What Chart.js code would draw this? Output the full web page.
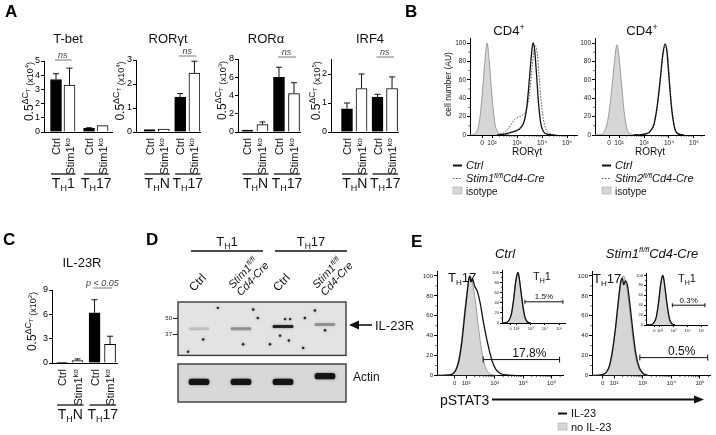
<!DOCTYPE html>
<html>
<head>
<meta charset="utf-8">
<script src="https://cdn.jsdelivr.net/npm/chart.js@4.4.1/dist/chart.umd.min.js"></script>
<style>
  body { margin: 0; width: 716px; height: 435px; position: relative; overflow: hidden; background: #fff; }
  canvas { position: absolute; }
</style>
</head>
<body>
<script>
// ---------- qPCR bars (panels A and C) ----------
const barLabels = ['Ctrl', 'Stim1ko', 'Ctrl', 'Stim1ko'];
const tbetGroups = ['1', '17'];
const thGroups = ['N', '17'];

const tbetMean = [3.7, 3.3, 0.25, 0.45];
const tbetTop = [4.1, 4.5, 0.3, 0.45];
const rorgtMean = [0.1, 0.12, 1.45, 2.45];
const rorgtTop = [0.1, 0.12, 1.6, 2.95];
const roraMean = [0.2, 0.8, 6.0, 4.2];
const roraTop = [0.2, 1.1, 7.1, 5.4];
const irf4Mean = [0.8, 1.5, 1.2, 1.5];
const irf4Top = [1.0, 2.0, 1.3, 1.9];
const il23rMean = [0.05, 0.3, 6.2, 2.3];
const il23rTop = [0.05, 0.5, 7.8, 3.3];

// ---------- flow histograms (x in decades, y in % of max) ----------
const decadePos = [1.6, 2, 3, 4, 5];
const decadeLabels = ['0', '10²', '10³', '10⁴', '10⁵'];

// B, Stim1 plot
const b1IsoX = [1.12, 1.3, 1.42, 1.52, 1.62, 1.72, 1.8, 1.88, 1.96, 2.04, 2.12, 2.22, 2.35, 2.5, 2.7];
const b1IsoY = [0, 1, 6, 20, 48, 82, 100, 84, 56, 30, 12, 4, 1, 0.5, 0];
const b1CtrlX = [2.2, 2.5, 2.8, 3.0, 3.15, 3.3, 3.4, 3.5, 3.58, 3.64, 3.7, 3.78, 3.86, 3.95, 4.05, 4.2, 4.5];
const b1CtrlY = [0, 1, 3, 5, 8, 16, 32, 62, 88, 100, 94, 66, 35, 13, 4, 1, 0];
const b1KoX = [2.2, 2.45, 2.65, 2.8, 2.95, 3.1, 3.25, 3.38, 3.5, 3.6, 3.68, 3.74, 3.82, 3.9, 4.0, 4.12, 4.3, 4.6];
const b1KoY = [0, 2, 7, 13, 18, 20, 22, 28, 45, 72, 92, 97, 86, 58, 28, 9, 2, 0];
// B, Stim2 plot
const b2IsoX = [1.04, 1.3, 1.42, 1.55, 1.68, 1.8, 1.92, 2.02, 2.12, 2.22, 2.34, 2.5, 2.8];
const b2IsoY = [0, 0.5, 4, 16, 42, 75, 98, 80, 50, 22, 5, 1, 0];
const b2CtrlX = [2.6, 2.9, 3.1, 3.25, 3.4, 3.52, 3.64, 3.74, 3.84, 3.92, 4.0, 4.1, 4.22, 4.35, 4.6];
const b2CtrlY = [0, 0.5, 1.5, 4, 12, 30, 58, 85, 99, 90, 62, 30, 8, 1.5, 0];
const b2KoX = [2.6, 2.9, 3.1, 3.25, 3.4, 3.52, 3.64, 3.74, 3.86, 3.94, 4.02, 4.12, 4.24, 4.38, 4.6];
const b2KoY = [0, 0.5, 1.5, 4, 11, 28, 55, 83, 97, 88, 60, 28, 7, 1, 0];

// E, pSTAT3 Ctrl (TH17 main, TH1 inset)
const e1NoX = [0.98, 1.4, 1.55, 1.65, 1.75, 1.85, 1.95, 2.05, 2.14, 2.22, 2.32, 2.42, 2.52, 2.62, 2.75, 2.9, 3.1];
const e1NoY = [0, 0.5, 2, 7, 18, 38, 65, 88, 100, 94, 76, 52, 30, 14, 4, 1, 0];
const e1IlX = [0.98, 1.4, 1.55, 1.65, 1.75, 1.85, 1.95, 2.05, 2.09, 2.13, 2.17, 2.22, 2.3, 2.4, 2.5, 2.6, 2.7, 2.8, 2.92, 3.05, 3.2, 3.4, 3.7];
const e1IlY = [0, 0.5, 2, 6, 15, 33, 60, 86, 96, 100, 94, 97, 90, 84, 72, 55, 40, 27, 14, 6, 2, 0.5, 0];
const e1InNoX = [1.0, 1.3, 1.5, 1.65, 1.8, 1.95, 2.1, 2.25, 2.4, 2.55, 2.7, 2.9];
const e1InNoY = [0, 1, 6, 18, 45, 82, 100, 80, 42, 14, 3, 0];
const e1InIlX = [1.0, 1.3, 1.5, 1.65, 1.8, 1.95, 2.05, 2.12, 2.2, 2.3, 2.45, 2.6, 2.75, 3.0];
const e1InIlY = [0, 1, 6, 17, 44, 80, 96, 100, 90, 68, 36, 12, 3, 0];
// E, pSTAT3 Stim1 fl/fl Cd4-Cre
const e2NoX = [1.23, 1.6, 1.75, 1.85, 1.95, 2.05, 2.15, 2.25, 2.33, 2.42, 2.52, 2.62, 2.72, 2.85, 3.0, 3.2];
const e2NoY = [0, 1, 4, 10, 24, 45, 72, 94, 100, 92, 72, 46, 24, 8, 2, 0];
const e2IlX = [1.23, 1.6, 1.75, 1.85, 1.95, 2.05, 2.15, 2.22, 2.28, 2.34, 2.4, 2.47, 2.56, 2.66, 2.76, 2.88, 3.02, 3.2];
const e2IlY = [0, 1, 4, 11, 26, 48, 75, 92, 98, 91, 95, 90, 70, 44, 22, 8, 2, 0];
const e2InNoX = [1.0, 1.4, 1.6, 1.75, 1.9, 2.05, 2.2, 2.35, 2.5, 2.65, 2.8, 3.0];
const e2InNoY = [0, 1, 6, 18, 45, 82, 100, 80, 42, 14, 3, 0];
const e2InIlX = [1.0, 1.4, 1.6, 1.75, 1.9, 2.05, 2.15, 2.22, 2.3, 2.4, 2.55, 2.7, 2.85, 3.1];
const e2InIlY = [0, 1, 6, 17, 44, 80, 96, 100, 90, 68, 36, 12, 3, 0];

// gates: E1 main, E1 inset, E2 main, E2 inset
const gateLabels = ['17.8%', '1.5%', '0.5%', '0.3%'];
const gateFrom = [2.6, 2.6, 2.9, 2.9];
const gateTo = [5.28, 5.25, 5.27, 5.25];
const gateLevel = [16, 42, 18, 40];

// ---------- western blot (panel D) ----------
const laneNames = ['Ctrl', 'Stim1', 'Ctrl', 'Stim1'];
const laneGroups = ['1', '17'];
const il23rBand = [0.5, 0.5, 0.54, 0.58];
const il23rInk = [0.12, 0.3, 0.85, 0.3];
const actinBand = [0.53, 0.53, 0.53, 0.68];
const actinInk = [0.95, 0.95, 0.95, 0.95];
const markerLabels = ['50', '37'];
const markerPos = [0.7, 0.4];
const speckX = [0.45, 1.29, 1.4, 0.1, 1.05, 2.05, 2.17, 2.52, 1.93, 2.14, 2.48, 3.0, 1.69, -0.26, 2.76];
const speckY = [0.89, 0.86, 0.7, 0.3, 0.21, 0.68, 0.68, 0.7, 0.37, 0.28, 0.14, 0.47, 0.21, 0.07, 0.84];

// ---------- helpers ----------
const FONT = '"Liberation Sans", Arial, Helvetica, sans-serif';
const INK = '#111';

function font(size, style) {
    return (style ? style + ' ' : '') + size + 'px ' + FONT;
}

// parts: [text, size, dy, style]
function rich(ctx, parts, x, y, align) {
    let w = 0;
    parts.forEach(p => { ctx.font = font(p[1], p[3]); w += ctx.measureText(p[0]).width; });
    let cx = align === 'center' ? x - w / 2 : align === 'right' ? x - w : x;
    ctx.textAlign = 'left';
    ctx.textBaseline = 'alphabetic';
    parts.forEach(p => {
        ctx.font = font(p[1], p[3]);
        ctx.fillText(p[0], cx, y + (p[2] || 0));
        cx += ctx.measureText(p[0]).width;
    });
}

function richRot(ctx, parts, x, y, angle, align) {
    ctx.save();
    ctx.translate(x, y);
    ctx.rotate(angle);
    rich(ctx, parts, 0, 0, align);
    ctx.restore();
}

function seg(ctx, x1, y1, x2, y2, w, color) {
    ctx.save();
    ctx.lineWidth = w || 1;
    ctx.strokeStyle = color || INK;
    ctx.beginPath();
    ctx.moveTo(x1, y1);
    ctx.lineTo(x2, y2);
    ctx.stroke();
    ctx.restore();
}

function letter(ctx, s, x, y) {
    ctx.font = font(17, 'bold');
    ctx.fillStyle = '#000';
    ctx.textAlign = 'left';
    ctx.fillText(s, x, y);
    ctx.fillStyle = INK;
}

function mount(box) {
    const c = document.createElement('canvas');
    c.width = box.r - box.l;
    c.height = box.b - box.t;
    c.style.left = box.l + 'px';
    c.style.top = box.t + 'px';
    c.style.width = c.width + 'px';
    c.style.height = c.height + 'px';
    document.body.appendChild(c);
    return c;
}

// padding that puts the plot area exactly on `area`, given fixed axis box sizes
function pad(box, area, yW, xH) {
    return { left: area.l - box.l - yW, top: area.t - box.t, right: box.r - area.r, bottom: box.b - area.b - xH };
}

// draws in page coordinates; X/Y map data values to page pixels
function overlay(box, draw) {
    return {
        id: 'overlay',
        afterDraw(chart) {
            const ctx = chart.ctx;
            const X = v => chart.scales.x.getPixelForValue(v) + box.l;
            const Y = v => chart.scales.y.getPixelForValue(v) + box.t;
            ctx.save();
            ctx.translate(-box.l, -box.t);
            ctx.fillStyle = INK;
            ctx.strokeStyle = INK;
            draw(ctx, X, Y);
            ctx.restore();
        }
    };
}

const baseOptions = {
    responsive: false,
    animation: false,
    devicePixelRatio: 1,
    events: []
};
const noPlugins = { legend: { display: false }, tooltip: { enabled: false } };

// ---------- bar panels ----------
function barPanel(p) {
    const pos = i => i + (i > 1 ? p.gap : 0);
    new Chart(mount(p.box), {
        type: 'bar',
        data: {
            datasets: [{
                data: p.mean.map((v, i) => ({ x: pos(i), y: v })),
                backgroundColor: p.mean.map((v, i) => i % 2 ? '#fff' : '#000'),
                borderColor: '#000',
                borderWidth: 1,
                barThickness: 11
            }]
        },
        options: {
            ...baseOptions,
            layout: { autoPadding: false, padding: pad(p.box, p.area, 12, 0) },
            plugins: noPlugins,
            scales: {
                x: {
                    type: 'linear', offset: false, min: p.xMin, max: p.xMax,
                    ticks: { display: false },
                    grid: { display: false },
                    border: { color: '#000', width: 1 },
                    afterFit: s => { s.height = 0; }
                },
                y: {
                    min: 0, max: p.max,
                    ticks: { stepSize: p.step, includeBounds: false, color: '#000', padding: 1, font: { family: FONT, size: 9 } },
                    grid: { drawOnChartArea: false, tickLength: 3, color: '#000' },
                    border: { color: '#000', width: 1 },
                    afterFit: s => { s.width = 12; }
                }
            }
        },
        plugins: [overlay(p.box, (ctx, X, Y) => {
            if (p.letter) letter(ctx, p.letter[0], p.letter[1], p.letter[2]);
            // error bars (upper only)
            p.mean.forEach((v, i) => {
                if (p.top[i] <= v) return;
                const x = X(pos(i));
                seg(ctx, x, Y(v), x, Y(p.top[i]), 1);
                seg(ctx, x - 3, Y(p.top[i]), x + 3, Y(p.top[i]), 1);
            });
            // significance bracket
            const s = p.sig;
            seg(ctx, X(pos(s.a)) - 1, s.y, X(pos(s.b)) + 2, s.y, 1, '#777');
            ctx.fillStyle = '#444';
            rich(ctx, [[s.text, 9, 0, 'italic']], (X(pos(s.a)) + X(pos(s.b))) / 2, s.y - 2.5, 'center');
            ctx.fillStyle = INK;
            // rotated category labels
            barLabels.forEach((name, i) => {
                const parts = name.endsWith('ko') ? [[name.slice(0, -2), 11], ['ko', 8, -4]] : [[name, 11]];
                richRot(ctx, parts, X(pos(i)) + 4, p.area.b + 6, -Math.PI / 2, 'right');
            });
            // subset groups
            p.groups.forEach((g, k) => {
                const x1 = X(pos(2 * k)) - 5;
                const x2 = X(pos(2 * k + 1)) + 6;
                seg(ctx, x1, p.area.b + 42, x2, p.area.b + 42, 1.3);
                rich(ctx, [['T', 14], ['H', 9, 3], [g, 14]], (x1 + x2) / 2, p.area.b + 56, 'center');
            });
            // title
            rich(ctx, [[p.title, 13]], p.titleX, p.titleY, 'center');
            // y-axis title
            richRot(ctx, [['0.5', 12], ['ΔC', 9, -5], ['T', 6, -3], [' (x10', 9], [p.exp, 6, -4], [')', 9]],
                p.yTitleX, (p.area.t + p.area.b) / 2 - 5, -Math.PI / 2, 'center');
        })]
    });
}

barPanel({
    box: { l: 0, t: 0, r: 116, b: 195 }, area: { l: 44, t: 61, r: 112, b: 132 },
    mean: tbetMean, top: tbetTop, max: 5, step: 1, xMin: -0.89, xMax: 4.15, gap: 0.45,
    title: 'T-bet', titleX: 68, titleY: 43, yTitleX: 32.5, exp: '4', groups: tbetGroups,
    sig: { a: 0, b: 1, text: 'ns', y: 60 }, letter: ['A', 5, 17]
});
barPanel({
    box: { l: 112, t: 20, r: 206, b: 195 }, area: { l: 136, t: 60, r: 200, b: 132 },
    mean: rorgtMean, top: rorgtTop, max: 3, step: 1, xMin: -0.95, xMax: 3.54, gap: 0.15,
    title: 'RORγt', titleX: 168, titleY: 43, yTitleX: 123.5, exp: '4', groups: thGroups,
    sig: { a: 2, b: 3, text: 'ns', y: 56 }
});
barPanel({
    box: { l: 206, t: 20, r: 304, b: 195 }, area: { l: 238, t: 59, r: 300, b: 132 },
    mean: roraMean, top: roraTop, max: 8, step: 2, xMin: -0.63, xMax: 3.5, gap: 0.1,
    title: 'RORα', titleX: 266, titleY: 43, yTitleX: 225.5, exp: '3', groups: thGroups,
    sig: { a: 2, b: 3, text: 'ns', y: 57 }
});
barPanel({
    box: { l: 304, t: 20, r: 402, b: 195 }, area: { l: 331, t: 59.5, r: 398, b: 132 },
    mean: irf4Mean, top: irf4Top, max: 2.5, step: 1, xMin: -1.1, xMax: 3.51, gap: 0.1,
    title: 'IRF4', titleX: 370, titleY: 43, yTitleX: 319.5, exp: '5', groups: thGroups,
    sig: { a: 2, b: 3, text: 'ns', y: 57 }
});
barPanel({
    box: { l: 0, t: 228, r: 125, b: 425 }, area: { l: 52, t: 290, r: 117, b: 363 },
    mean: il23rMean, top: il23rTop, max: 9, step: 3, xMin: -0.65, xMax: 3.55, gap: 0.1,
    title: 'IL-23R', titleX: 82, titleY: 267, yTitleX: 35.5, exp: '2', groups: thGroups,
    sig: { a: 2, b: 3, text: 'p < 0.05', y: 288 }, letter: ['C', 3, 245]
});

// ---------- histogram panels ----------
const curveStyles = {
    line: { borderColor: '#111', borderWidth: 1.3, fill: false, order: 0 },
    dots: { borderColor: '#555', borderWidth: 1, borderDash: [1.5, 1.5], fill: false, order: 1 },
    shade: { borderColor: '#888', borderWidth: 0.8, backgroundColor: '#d6d6d6', fill: 'origin', order: 2 }
};

function histPanel(p) {
    const datasets = p.curves.map(c => Object.assign({
        data: c.x.map((v, i) => ({ x: v, y: c.y[i] })),
        pointRadius: 0,
        cubicInterpolationMode: 'monotone'
    }, curveStyles[c.kind]));
    const tickFont = { family: FONT, size: p.tick };
    const yW = p.tick * 2.2 + p.tl + 2;
    const xH = p.tick * 1.6 + p.tl + 2;
    new Chart(mount(p.box), {
        type: 'line',
        data: { datasets },
        options: {
            ...baseOptions,
            layout: { autoPadding: false, padding: pad(p.box, p.area, yW, xH) },
            plugins: noPlugins,
            scales: {
                x: {
                    type: 'linear', min: p.xMin, max: p.xMax,
                    afterBuildTicks: s => { s.ticks = decadePos.map(v => ({ value: v })); },
                    ticks: { callback: (v, i) => decadeLabels[i], autoSkip: false, maxRotation: 0, color: '#222', padding: 1, font: tickFont },
                    grid: { drawOnChartArea: false, tickLength: p.tl, color: '#000' },
                    border: { color: '#000', width: 1 },
                    afterFit: s => { s.height = xH; }
                },
                y: {
                    min: 0, max: 105,
                    ticks: { stepSize: 20, includeBounds: false, color: '#222', padding: 1, font: tickFont },
                    grid: { drawOnChartArea: false, tickLength: p.tl, color: '#000' },
                    border: { color: '#000', width: 1 },
                    afterFit: s => { s.width = yW; }
                }
            }
        },
        plugins: [overlay(p.box, (ctx, X, Y) => {
            const b = p.area.b;
            const m = p.tl * 0.55;
            for (let d = 2; d <= 5; d++) {
                for (let k = 2; k < 10; k++) {
                    const u = d + Math.log10(k);
                    if (u < p.xMax) seg(ctx, X(u), b, X(u), b + m, 0.7);
                }
            }
            [10, 30, 50, 70, 90].forEach(v => seg(ctx, p.area.l - m, Y(v), p.area.l, Y(v), 0.7));
            (p.gates || []).forEach(g => {
                const x1 = X(gateFrom[g]);
                const x2 = X(gateTo[g]);
                const y = Y(gateLevel[g]);
                const cap = p.tl;
                seg(ctx, x1, y, x2, y, 1);
                seg(ctx, x1, y - cap, x1, y + cap, 1);
                seg(ctx, x2, y - cap, x2, y + cap, 1);
                rich(ctx, [[gateLabels[g], p.gateFont]], (x1 + x2) / 2 + p.gateShift, y - 2.5, 'center');
            });
            if (p.extra) p.extra(ctx, X, Y);
        })]
    });
}

function legendRow(ctx, kind, x, y, parts) {
    if (kind === 'line') seg(ctx, x, y - 3.5, x + 9, y - 3.5, 2);
    if (kind === 'dots') {
        ctx.save();
        ctx.setLineDash([1.5, 1.5]);
        seg(ctx, x, y - 3.5, x + 9, y - 3.5, 1, '#555');
        ctx.restore();
    }
    if (kind === 'shade') {
        ctx.fillStyle = '#d6d6d6';
        ctx.fillRect(x, y - 8, 9, 7);
        ctx.strokeStyle = '#aaa';
        ctx.lineWidth = 0.6;
        ctx.strokeRect(x, y - 8, 9, 7);
        ctx.fillStyle = INK;
    }
    rich(ctx, parts, x + 13, y, 'left');
}

histPanel({
    box: { l: 400, t: 0, r: 585, b: 200 }, area: { l: 470, t: 38.4, r: 577, b: 135 },
    xMin: 1.12, xMax: 5.4, tick: 6.5, tl: 3,
    curves: [
        { x: b1CtrlX, y: b1CtrlY, kind: 'line' },
        { x: b1KoX, y: b1KoY, kind: 'dots' },
        { x: b1IsoX, y: b1IsoY, kind: 'shade' }
    ],
    extra: ctx => {
        letter(ctx, 'B', 405, 17);
        rich(ctx, [['CD4', 13], ['+', 9, -5]], 509, 35, 'center');
        rich(ctx, [['RORγt', 10]], 527, 155, 'center');
        richRot(ctx, [['cell number (AU)', 8.5]], 451, 84, -Math.PI / 2, 'center');
        legendRow(ctx, 'line', 453, 169, [['Ctrl', 11, 0, 'italic']]);
        legendRow(ctx, 'dots', 453, 182, [['Stim1', 11, 0, 'italic'], ['fl/fl', 7, -4, 'italic'], ['Cd4-Cre', 11, 0, 'italic']]);
        legendRow(ctx, 'shade', 453, 195, [['isotype', 10]]);
    }
});

histPanel({
    box: { l: 570, t: 0, r: 716, b: 200 }, area: { l: 595, t: 38.4, r: 704, b: 135 },
    xMin: 1.04, xMax: 5.4, tick: 6.5, tl: 3,
    curves: [
        { x: b2CtrlX, y: b2CtrlY, kind: 'line' },
        { x: b2KoX, y: b2KoY, kind: 'dots' },
        { x: b2IsoX, y: b2IsoY, kind: 'shade' }
    ],
    extra: ctx => {
        rich(ctx, [['CD4', 13], ['+', 9, -5]], 642, 35, 'center');
        rich(ctx, [['RORγt', 10]], 650, 155, 'center');
        legendRow(ctx, 'line', 602, 169, [['Ctrl', 11, 0, 'italic']]);
        legendRow(ctx, 'dots', 602, 182, [['Stim2', 11, 0, 'italic'], ['fl/fl', 7, -4, 'italic'], ['Cd4-Cre', 11, 0, 'italic']]);
        legendRow(ctx, 'shade', 602, 195, [['isotype', 10]]);
    }
});

histPanel({
    box: { l: 405, t: 230, r: 716, b: 435 }, area: { l: 437, t: 271, r: 563, b: 375.5 },
    xMin: 0.98, xMax: 5.4, tick: 6, tl: 3, gates: [0], gateFont: 12, gateShift: 8,
    curves: [
        { x: e1IlX, y: e1IlY, kind: 'line' },
        { x: e1NoX, y: e1NoY, kind: 'shade' }
    ],
    extra: ctx => {
        letter(ctx, 'E', 411, 247);
        rich(ctx, [['Ctrl', 13, 0, 'italic']], 505, 258, 'center');
        rich(ctx, [['T', 13], ['H', 8, 3], ['17', 13]], 448, 282, 'left');
        rich(ctx, [['pSTAT3', 14]], 440, 405, 'left');
        seg(ctx, 492, 399.5, 696, 399.5, 1.8);
        ctx.beginPath();
        ctx.moveTo(704, 399.5);
        ctx.lineTo(694, 395.5);
        ctx.lineTo(694, 403.5);
        ctx.closePath();
        ctx.fill();
        legendRow(ctx, 'line', 558, 417, [['IL-23', 11]]);
        legendRow(ctx, 'shade', 558, 431, [['no IL-23', 11]]);
    }
});

histPanel({
    box: { l: 484, t: 262, r: 570, b: 335 }, area: { l: 502, t: 270, r: 565, b: 323 },
    xMin: 1.0, xMax: 5.4, tick: 4, tl: 2, gates: [1], gateFont: 8, gateShift: 0,
    curves: [
        { x: e1InIlX, y: e1InIlY, kind: 'line' },
        { x: e1InNoX, y: e1InNoY, kind: 'shade' }
    ],
    extra: ctx => rich(ctx, [['T', 11], ['H', 7, 2.5], ['1', 11]], 533, 280, 'left')
});

histPanel({
    box: { l: 570, t: 240, r: 716, b: 395 }, area: { l: 592, t: 271, r: 710, b: 375.5 },
    xMin: 1.23, xMax: 5.35, tick: 6, tl: 3, gates: [2], gateFont: 12, gateShift: 8,
    curves: [
        { x: e2IlX, y: e2IlY, kind: 'line' },
        { x: e2NoX, y: e2NoY, kind: 'shade' }
    ],
    extra: ctx => {
        rich(ctx, [['Stim1', 13, 0, 'italic'], ['fl/fl', 8, -6, 'italic'], ['Cd4-Cre', 13, 0, 'italic']], 652, 258, 'center');
        rich(ctx, [['T', 13], ['H', 8, 3], ['17', 13]], 593, 283, 'left');
    }
});

histPanel({
    box: { l: 628, t: 262, r: 712, b: 337 }, area: { l: 646, t: 273, r: 707, b: 325 },
    xMin: 1.0, xMax: 5.4, tick: 4, tl: 2, gates: [3], gateFont: 8, gateShift: 0,
    curves: [
        { x: e2InIlX, y: e2InIlY, kind: 'line' },
        { x: e2InNoX, y: e2InNoY, kind: 'shade' }
    ],
    extra: ctx => rich(ctx, [['T', 11], ['H', 7, 2.5], ['1', 11]], 678, 282, 'left')
});

// ---------- western blot ----------
function blotPanel(p) {
    const datasets = [{
        type: 'bar',
        data: p.band.map((y, i) => ({ x: i, y: [y - p.half, y + p.half] })),
        backgroundColor: p.ink.map(a => 'rgba(15,15,15,' + a + ')'),
        barThickness: 20,
        borderRadius: 3,
        borderSkipped: false
    }];
    if (p.specks) {
        datasets.push({
            type: 'scatter',
            data: speckX.map((x, i) => ({ x, y: speckY[i] })),
            pointRadius: 1.2,
            backgroundColor: '#222',
            borderWidth: 0
        });
    }
    new Chart(mount(p.box), {
        type: 'bar',
        data: { datasets },
        options: {
            ...baseOptions,
            layout: { autoPadding: false, padding: pad(p.box, p.area, 18, 0) },
            plugins: noPlugins,
            scales: {
                x: {
                    type: 'linear', offset: false, min: -0.5, max: 3.5,
                    ticks: { display: false }, grid: { display: false }, border: { display: false },
                    afterFit: s => { s.height = 0; }
                },
                y: {
                    min: 0, max: 1,
                    afterBuildTicks: s => { s.ticks = p.markers ? markerPos.map(v => ({ value: v })) : []; },
                    ticks: { callback: (v, i) => markerLabels[i], color: '#222', padding: 1, font: { family: FONT, size: 6 } },
                    grid: { drawOnChartArea: false, tickLength: 5, color: '#222' },
                    border: { display: false },
                    afterFit: s => { s.width = 18; }
                }
            }
        },
        plugins: [{
            id: 'blotFrame',
            beforeDatasetsDraw(chart) {
                const a = chart.chartArea;
                const ctx = chart.ctx;
                ctx.save();
                ctx.fillStyle = p.bg;
                ctx.fillRect(a.left, a.top, a.right - a.left, a.bottom - a.top);
                ctx.shadowColor = 'rgba(0,0,0,0.55)';
                ctx.shadowBlur = 2.5;
            },
            afterDatasetsDraw(chart) {
                const a = chart.chartArea;
                const ctx = chart.ctx;
                ctx.restore();
                ctx.save();
                ctx.strokeStyle = '#3a3a3a';
                ctx.lineWidth = 1.4;
                ctx.strokeRect(a.left, a.top, a.right - a.left, a.bottom - a.top);
                ctx.restore();
            }
        }, overlay(p.box, p.extra)]
    });
}

blotPanel({
    box: { l: 140, t: 228, r: 420, b: 360 }, area: { l: 178, t: 302, r: 346, b: 359 },
    band: il23rBand, ink: il23rInk, half: 0.022, bg: '#e3e3e3', specks: true, markers: true,
    extra: (ctx, X) => {
        letter(ctx, 'D', 146, 245);
        laneGroups.forEach((g, k) => {
            const x1 = X(2 * k) - 8;
            const x2 = X(2 * k + 1) + 22;
            seg(ctx, x1, 251, x2, 251, 1.3);
            rich(ctx, [['T', 13], ['H', 8.5, 3], [g, 13]], (x1 + x2) / 2, 246, 'center');
        });
        laneNames.forEach((name, i) => {
            if (name === 'Ctrl') {
                richRot(ctx, [['Ctrl', 12]], X(i) - 5, 292, -0.82, 'left');
            } else {
                ctx.save();
                ctx.translate(X(i) - 8, 289);
                ctx.rotate(-0.82);
                rich(ctx, [[name, 11, 0, 'italic'], ['fl/fl', 7, -4, 'italic']], 0, 0, 'left');
                rich(ctx, [['Cd4-Cre', 11, 0, 'italic']], 0, 11, 'left');
                ctx.restore();
            }
        });
        seg(ctx, 357, 325, 372, 325, 1.6);
        ctx.beginPath();
        ctx.moveTo(349, 325);
        ctx.lineTo(359, 320.5);
        ctx.lineTo(359, 329.5);
        ctx.closePath();
        ctx.fill();
        rich(ctx, [['IL-23R', 13]], 375, 330, 'left');
    }
});

blotPanel({
    box: { l: 140, t: 360, r: 420, b: 410 }, area: { l: 178, t: 364, r: 346, b: 402 },
    band: actinBand, ink: actinInk, half: 0.075, bg: '#d8d8d8', specks: false, markers: false,
    extra: ctx => rich(ctx, [['Actin', 12]], 353, 381, 'left')
});
</script>
</body>
</html>
